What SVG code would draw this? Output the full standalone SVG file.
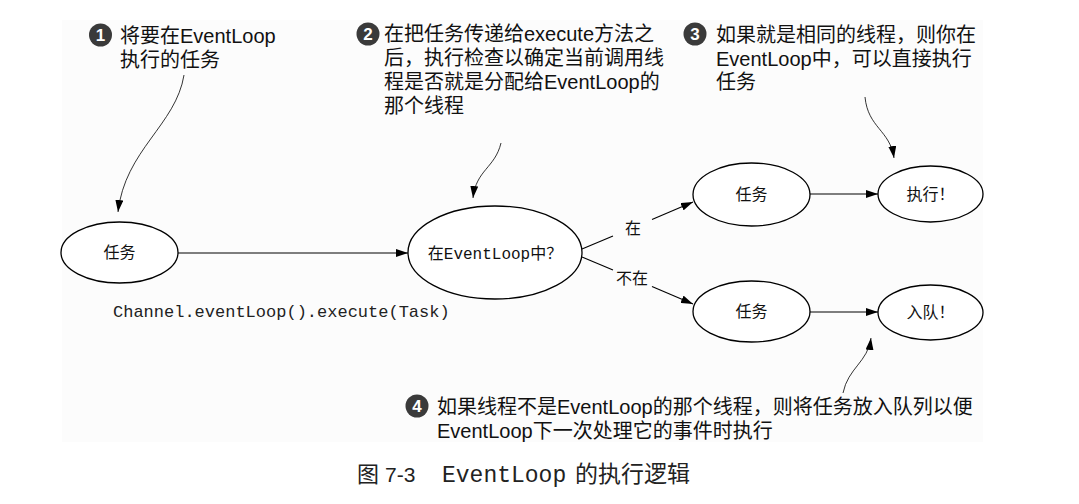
<svg xmlns="http://www.w3.org/2000/svg" width="1079" height="504" viewBox="0 0 1079 504">
<defs>
<marker id="ah" viewBox="0 0 12 8" refX="12" refY="4" markerWidth="12" markerHeight="8" orient="auto" markerUnits="userSpaceOnUse"><path d="M0,0 L12,4 L0,8 z" fill="#000"/></marker>
<style>
.node{fill:#fff;stroke:#000;stroke-width:1.3}
.lbl{font-family:"Noto Sans CJK SC","Liberation Serif",serif;font-size:16px;fill:#111;text-anchor:middle}
.mono{font-family:"Liberation Mono","Noto Sans CJK SC",monospace}
.conn{stroke:#000;stroke-width:1.1;fill:none}
.call{stroke:#000;stroke-width:0.8;fill:none}
.note{font-family:"Liberation Sans","Noto Sans CJK SC",sans-serif;font-size:20px;fill:#111}
.num{fill:#3a3a3a}
.numt{font-family:"Liberation Sans",sans-serif;font-size:17px;font-weight:bold;fill:#fff;text-anchor:middle}
</style>
</defs>
<rect x="62" y="20" width="921" height="422" fill="#fcfcfc"/>

<g id="connectors">
<path class="conn" d="M178,253 L408,253" marker-end="url(#ah)"/>
<path class="conn" d="M582,249 L613,236"/>
<path class="conn" d="M652,219.5 L693,202" marker-end="url(#ah)"/>
<path class="conn" d="M582,257 L613,270"/>
<path class="conn" d="M652,286.5 L693,304" marker-end="url(#ah)"/>
<path class="conn" d="M810,194 L878,194" marker-end="url(#ah)"/>
<path class="conn" d="M810,312 L878,312" marker-end="url(#ah)"/>
<path class="call" d="M184,75 C176,125 125,150 118,212" marker-end="url(#ah)"/>
<path class="call" d="M501,143 C495,168 476,170 473,198" marker-end="url(#ah)"/>
<path class="call" d="M865,97 C868,128 890,130 894,158" marker-end="url(#ah)"/>
<path class="call" d="M843,393 C848,368 868,362 871,338" marker-end="url(#ah)"/>
<text class="lbl" x="633" y="234">在</text>
<text class="lbl" x="632" y="284">不在</text>
</g>

<g id="task-start">
<ellipse class="node" cx="119.5" cy="252.5" rx="58.5" ry="30.5"/>
<text class="lbl" x="119.5" y="258">任务</text>
<text class="mono" x="113" y="317" font-size="17" fill="#222">Channel.eventLoop().execute(Task)</text>
</g>
<g id="check">
<ellipse class="node" cx="495" cy="252.5" rx="87" ry="46.5"/>
<text class="lbl" x="495" y="258.5">在<tspan class="mono">EventLoop</tspan>中？</text>
</g>
<g id="task-in">
<ellipse class="node" cx="751.5" cy="194.5" rx="58.5" ry="31.5"/>
<text class="lbl" x="751.5" y="200">任务</text>
</g>
<g id="execute">
<ellipse class="node" cx="930.5" cy="194" rx="52.5" ry="28"/>
<text class="lbl" x="930.5" y="200">执行！</text>
</g>
<g id="task-out">
<ellipse class="node" cx="751.5" cy="311.5" rx="58.5" ry="30.5"/>
<text class="lbl" x="751.5" y="317">任务</text>
</g>
<g id="enqueue">
<ellipse class="node" cx="930.5" cy="312.5" rx="52.5" ry="27.5"/>
<text class="lbl" x="930.5" y="318">入队！</text>
</g>

<g id="note1">
<circle class="num" cx="100.5" cy="35" r="11.5"/>
<text class="numt" x="100.5" y="41">1</text>
<text class="note" x="120" y="43">将要在EventLoop</text>
<text class="note" x="120" y="67">执行的任务</text>
</g>
<g id="note2">
<circle class="num" cx="368" cy="34" r="11.5"/>
<text class="numt" x="368" y="40">2</text>
<text class="note" x="384" y="41">在把任务传递给execute方法之</text>
<text class="note" x="384" y="65">后，执行检查以确定当前调用线</text>
<text class="note" x="384" y="89">程是否就是分配给EventLoop的</text>
<text class="note" x="384" y="113">那个线程</text>
</g>
<g id="note3">
<circle class="num" cx="695" cy="34" r="11.5"/>
<text class="numt" x="695" y="40">3</text>
<text class="note" x="716" y="42">如果就是相同的线程，则你在</text>
<text class="note" x="716" y="66">EventLoop中，可以直接执行</text>
<text class="note" x="716" y="89">任务</text>
</g>
<g id="note4">
<circle class="num" cx="417" cy="406" r="11.5"/>
<text class="numt" x="417" y="412">4</text>
<text class="note" x="437" y="414">如果线程不是EventLoop的那个线程，则将任务放入队列以便</text>
<text class="note" x="437" y="438">EventLoop下一次处理它的事件时执行</text>
</g>

<g id="caption" fill="#222">
<text x="357" y="482" font-family="Noto Sans CJK SC,sans-serif" font-size="22">图</text>
<text x="385" y="482" font-family="Liberation Sans,sans-serif" font-size="21">7-3</text>
<text x="442" y="482" class="mono" font-size="23">EventLoop</text>
<text x="575" y="482" font-family="Noto Sans CJK SC,sans-serif" font-size="23">的执行逻辑</text>
</g>
</svg>
